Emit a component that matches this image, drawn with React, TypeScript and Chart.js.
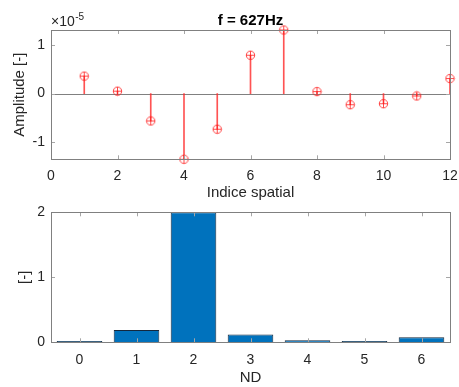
import React, { useEffect, useRef } from "react";
import { Chart, registerables } from "chart.js";

Chart.register(...registerables);

// ---- Data ----
const spatialIndex = [1, 2, 3, 4, 5, 6, 7, 8, 9, 10, 11, 12];
const amplitude = [0.36, 0.05, -0.565, -1.355, -0.735, 0.79, 1.31, 0.04, -0.23, -0.21, -0.05, 0.31]; // x 1e-5
const topXTicks = [0, 2, 4, 6, 8, 10, 12];
const topYTicks = [-1, 0, 1];
const ndCategories = ["0", "1", "2", "3", "4", "5", "6"];
const ndValues = [0.02, 0.19, 2.0, 0.12, 0.03, 0.02, 0.077];
const bottomYTicks = [0, 1, 2];
const titleText = "f = 627Hz";
const exponentText = "-5";

const FONT = "'Liberation Sans', Arial, Helvetica, sans-serif";
const TXT = "#262626";
const AX = "#808080";

function makeBoxPlugin(id: string, zeroLine: boolean) {
  return {
    id,
    beforeDatasetsDraw(chart: any) {
      if (!zeroLine) return;
      const { ctx, chartArea } = chart;
      const y = Math.round(chart.scales.y.getPixelForValue(0)) + 0.5;
      ctx.save();
      ctx.strokeStyle = AX;
      ctx.lineWidth = 1;
      ctx.beginPath();
      ctx.moveTo(chartArea.left, y);
      ctx.lineTo(chartArea.right, y);
      ctx.stroke();
      ctx.restore();
    },
    afterDraw(chart: any) {
      const { ctx, chartArea } = chart;
      const { left, right, top, bottom } = chartArea;
      ctx.save();
      ctx.strokeStyle = "#a6a6a6";
      ctx.lineWidth = 1;
      const tl = 4;
      const xs = chart.scales.x;
      xs.ticks.forEach((_t: any, i: number) => {
        const px = Math.round(xs.getPixelForTick(i)) + 0.5;
        ctx.beginPath();
        ctx.moveTo(px, bottom);
        ctx.lineTo(px, bottom - tl);
        ctx.moveTo(px, top);
        ctx.lineTo(px, top + tl);
        ctx.stroke();
      });
      const ys = chart.scales.y;
      ys.ticks.forEach((_t: any, i: number) => {
        const py = Math.round(ys.getPixelForTick(i)) + 0.5;
        ctx.beginPath();
        ctx.moveTo(left, py);
        ctx.lineTo(left + tl, py);
        ctx.moveTo(right, py);
        ctx.lineTo(right - tl, py);
        ctx.stroke();
      });
      ctx.strokeStyle = AX;
      ctx.strokeRect(Math.round(left) + 0.5, Math.round(top) + 0.5, Math.round(right - left), Math.round(bottom - top));
      ctx.restore();
    },
  };
}

const exponentPlugin = {
  id: "exponent",
  afterDraw(chart: any) {
    const { ctx, chartArea } = chart;
    ctx.save();
    ctx.fillStyle = TXT;
    ctx.textBaseline = "alphabetic";
    ctx.textAlign = "left";
    ctx.font = `14px ${FONT}`;
    const base = "\u00d710";
    ctx.fillText(base, chartArea.left, 25.5);
    const w = ctx.measureText(base).width;
    ctx.font = `10px ${FONT}`;
    ctx.fillText(exponentText, chartArea.left + w + 0.5, 19.5);
    ctx.restore();
  },
};

function makeMarker(): HTMLCanvasElement {
  const c = document.createElement("canvas");
  c.width = 11;
  c.height = 11;
  const g = c.getContext("2d")!;
  g.strokeStyle = "rgba(255,30,30,0.9)";
  g.lineWidth = 0.9;
  g.beginPath();
  g.arc(5.5, 5.5, 4.2, 0, Math.PI * 2);
  g.stroke();
  g.beginPath();
  g.moveTo(1.3, 5.5);
  g.lineTo(9.7, 5.5);
  g.moveTo(5.5, 1.3);
  g.lineTo(5.5, 9.7);
  g.stroke();
  return c;
}

export default function App() {
  const topRef = useRef<HTMLCanvasElement>(null);
  const botRef = useRef<HTMLCanvasElement>(null);

  useEffect(() => {
    const tickFont = { family: FONT, size: 14 };
    const labelFont = { family: FONT, size: 15, lineHeight: 1.2 };
    const marker = makeMarker();

    const top = new Chart(topRef.current!, {
      type: "bar",
      data: {
        datasets: [
          {
            type: "line",
            data: spatialIndex.map((x, i) => ({ x, y: amplitude[i] })),
            showLine: false,
            pointStyle: marker as any,
            pointRadius: 4,
            clip: false,
            order: 0,
          } as any,
          {
            type: "bar",
            data: spatialIndex.map((x, i) => ({ x, y: amplitude[i] })),
            backgroundColor: "rgba(255,40,40,0.8)",
            borderWidth: 0,
            barThickness: 1,
            order: 1,
          } as any,
        ],
      },
      options: {
        animation: false,
        responsive: false,
        devicePixelRatio: 1,
        layout: { padding: { left: 0, right: 9, top: 0, bottom: 0 } },
        plugins: {
          legend: { display: false },
          tooltip: { enabled: false },
          title: {
            display: true,
            text: titleText,
            fullSize: false,
            color: "#000",
            font: { family: FONT, size: 15, weight: "bold", lineHeight: 1.2 },
            padding: { top: 12, bottom: 0 },
          },
        },
        scales: {
          x: {
            type: "linear",
            min: 0,
            max: 12,
            offset: false,
            afterBuildTicks: (s: any) => {
              s.ticks = topXTicks.map((v) => ({ value: v }));
            },
            afterFit: (s: any) => {
              s.height = 45.7;
              s.paddingLeft = 0;
              s.paddingRight = 0;
            },
            grid: { display: false, drawTicks: false },
            border: { display: false },
            ticks: { color: TXT, font: tickFont, padding: 8, maxRotation: 0, autoSkip: false },
            title: { display: true, text: "Indice spatial", color: TXT, font: labelFont, padding: { top: 0, bottom: 3 } },
          },
          y: {
            min: -1.355,
            max: 1.31,
            afterBuildTicks: (s: any) => {
              s.ticks = topYTicks.map((v) => ({ value: v }));
            },
            afterFit: (s: any) => {
              s.width = 51;
              s.paddingTop = 0;
              s.paddingBottom = 0;
            },
            grid: { display: false, drawTicks: false },
            border: { display: false },
            ticks: { color: TXT, font: tickFont, padding: 6 },
            title: { display: true, text: "Amplitude [-]", color: TXT, font: labelFont, padding: { top: 10.5, bottom: 0 } },
          },
        },
      } as any,
      plugins: [makeBoxPlugin("boxTop", true), exponentPlugin],
    });

    const bot = new Chart(botRef.current!, {
      type: "bar",
      data: {
        labels: ndCategories,
        datasets: [
          {
            data: ndValues,
            backgroundColor: "#0072BD",
            borderColor: "#14283d",
            borderWidth: 1,
            barPercentage: 0.8,
            categoryPercentage: 1,
          },
        ],
      },
      options: {
        animation: false,
        responsive: false,
        devicePixelRatio: 1,
        layout: { padding: { left: 0, right: 9, top: 7.3, bottom: 0 } },
        plugins: { legend: { display: false }, tooltip: { enabled: false } },
        scales: {
          x: {
            afterFit: (s: any) => {
              s.height = 44.7;
              s.paddingLeft = 0;
              s.paddingRight = 0;
            },
            grid: { display: false, drawTicks: false },
            border: { display: false },
            ticks: { color: TXT, font: tickFont, padding: 9, maxRotation: 0 },
            title: { display: true, text: "ND", color: TXT, font: labelFont, padding: { top: 0, bottom: 0 } },
          },
          y: {
            min: 0,
            max: 2,
            afterBuildTicks: (s: any) => {
              s.ticks = bottomYTicks.map((v) => ({ value: v }));
            },
            afterFit: (s: any) => {
              s.width = 51;
              s.paddingTop = 0;
              s.paddingBottom = 0;
            },
            grid: { display: false, drawTicks: false },
            border: { display: false },
            ticks: { color: TXT, font: tickFont, padding: 6 },
            title: { display: true, text: "[-]", color: TXT, font: labelFont, padding: { top: 16, bottom: 0 } },
          },
        },
      } as any,
      plugins: [makeBoxPlugin("boxBot", false)],
    });

    return () => {
      top.destroy();
      bot.destroy();
    };
  }, []);

  return (
    <div style={{ position: "fixed", left: 0, top: 0, width: 459, height: 387, background: "#fff" }}>
      <canvas ref={topRef} width={459} height={205} style={{ position: "absolute", left: 0, top: 0, width: 459, height: 205 }} />
      <canvas ref={botRef} width={459} height={182} style={{ position: "absolute", left: 0, top: 205, width: 459, height: 182 }} />
    </div>
  );
}
